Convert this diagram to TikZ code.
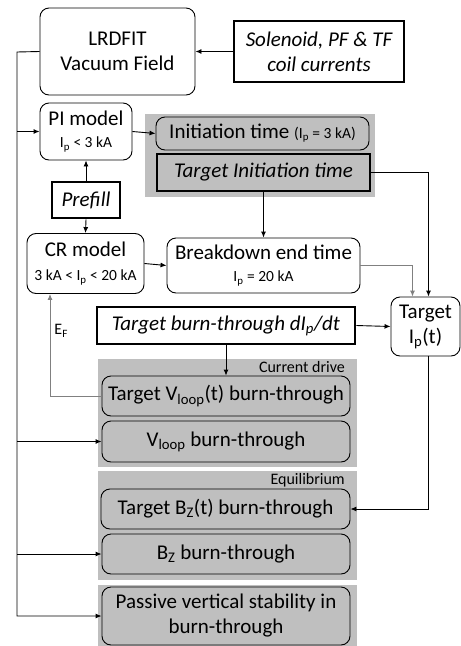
\documentclass[tikz,border=0pt]{standalone}
\usepackage{fontspec}
\setmainfont{Carlito}
\usetikzlibrary{arrows.meta}

\begin{document}
\begin{tikzpicture}[x=1pt,y=-1pt]
\definecolor{panelgray}{RGB}{191,191,191}
\definecolor{linkgray}{RGB}{128,128,128}
\tikzset{
  rbox/.style={shape=rectangle,draw,rounded corners=9pt,line width=0.9pt,align=center,inner sep=0pt,font=\fontsize{21}{25}\selectfont},
  tbox/.style={shape=rectangle,draw,line width=2.6pt,align=center,inner sep=0pt,font=\fontsize{21}{25}\selectfont\itshape},
  link/.style={line width=0.9pt,-{Latex[length=6pt,width=5pt]}},
  glink/.style={link,color=linkgray},
  tag/.style={font=\fontsize{16}{19}\selectfont,inner sep=1pt,text=black}
}
\newcommand{\smallfs}{\fontsize{15.5}{18}\selectfont}
\useasboundingbox (0,0) rectangle (461,646);

% grey panels
\fill[panelgray] (145,114) rectangle (375,197);
\fill[panelgray] (98,359) rectangle (357,467);
\fill[panelgray] (98,471) rectangle (357,580);
\fill[panelgray] (98,585) rectangle (357,646);
\node[tag,anchor=east] (cdlabel) at (346,367) {Current drive};
\node[tag,anchor=east] (eqlabel) at (346,480) {Equilibrium};

\node[rbox,minimum width=155pt,minimum height=87pt] (lrdfit) at (117.5,51.5) {LRDFIT\\Vacuum Field};
\node[tbox,fill=white,minimum width=170pt,minimum height=61pt] (coils) at (319,51.5) {Solenoid, PF \& TF\\coil currents};
\node[rbox,minimum width=92pt,minimum height=57pt] (pi) at (86,131.5) {PI model\\[-3pt]{\smallfs I\textsubscript{p} < 3 kA}};
\node[rbox,fill=panelgray,minimum width=213pt,minimum height=33pt] (init) at (262.5,133.5) {Initiation time {\smallfs(I\textsubscript{p} = 3 kA)}};
\node[tbox,fill=panelgray,minimum width=213pt,minimum height=37pt] (tinit) at (263.5,172.5) {Target Initiation time};
\node[tbox,fill=white,minimum width=68pt,minimum height=36pt] (prefill) at (86,200) {Prefill};
\node[rbox,minimum width=117pt,minimum height=60pt] (cr) at (85.5,263.5) {CR model\\[-1pt]{\smallfs 3 kA < I\textsubscript{p} < 20 kA}};
\node[rbox,minimum width=193pt,minimum height=55pt] (bd) at (263.5,265.5) {Breakdown end time\\[-3pt]{\smallfs I\textsubscript{p} = 20 kA}};
\node[rbox,minimum width=69pt,minimum height=59pt] (tip) at (425.5,326.5) {Target\\I\textsubscript{p}(t)};
\node[tbox,fill=white,minimum width=258pt,minimum height=37pt] (dip) at (226,325.5) {Target burn-through dI\textsubscript{p}/dt};
\node[rbox,fill=panelgray,minimum width=248pt,minimum height=40pt] (tvloop) at (226,396) {Target V\textsubscript{loop}(t) burn-through};
\node[rbox,fill=panelgray,minimum width=248pt,minimum height=41pt] (vloop) at (226,441.5) {V\textsubscript{loop} burn-through};
\node[rbox,fill=panelgray,minimum width=249pt,minimum height=40pt] (tbz) at (225.5,509) {Target B\textsubscript{Z}(t) burn-through};
\node[rbox,fill=panelgray,minimum width=248pt,minimum height=40pt] (bz) at (226,554) {B\textsubscript{Z} burn-through};
\node[rbox,fill=panelgray,minimum width=248pt,minimum height=58pt] (pass) at (226,616) {Passive vertical stability in\\burn-through};

% left trunk from the vacuum field
\coordinate (trunk) at (17,52);
\draw[link] (lrdfit.west) -- (trunk) |- (pass.west);
\draw[link] (trunk |- pi.west) -- (pi.west);
\draw[link] (trunk |- vloop.west) -- (vloop.west);
\draw[link] (trunk |- bz.west) -- (bz.west);

\draw[link] (coils.west) -- (lrdfit.east);
\draw[link] (pi.east) -- (init.west);
\draw[link] (prefill.north) -- (pi.south);
\draw[link] (prefill.south) -- (cr.north);
\draw[link] (cr.east) -- (bd.west);
\draw[link] (tinit.south) -- (bd.north);
\draw[link] (tinit.east) -| ([xshift=3pt]tip.north);
\draw[glink] (bd.east) -| ([xshift=-13pt]tip.north);
\draw[link] (dip.east) -- (tip.west);
\draw[link] (dip.south) -- (tvloop.north);
\draw[glink] (tvloop.west) -| ([xshift=-35.5pt]cr.south) node[pos=0.82,right,tag,inner sep=4pt] {E\textsubscript{F}};
\draw[link] ([xshift=3pt]tip.south) |- (tbz.east);
\end{tikzpicture}
\end{document}
